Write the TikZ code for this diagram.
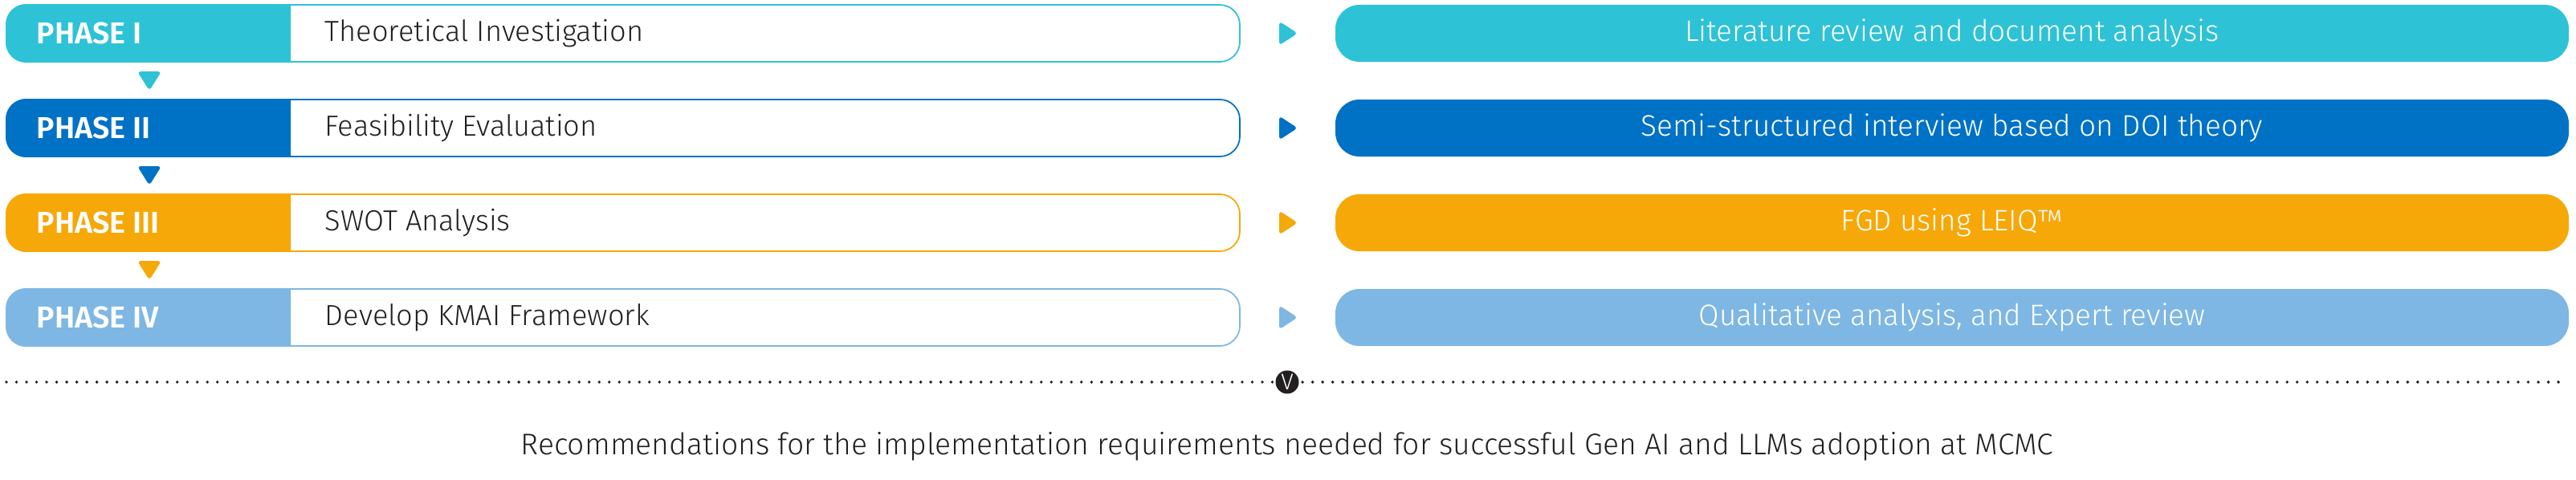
\documentclass[tikz,border=0pt]{standalone}
\usepackage{fontspec}
\setmainfont{Fira Sans Light}[BoldFont={Fira Sans SemiBold}]
\usepackage{tikz}

\definecolor{cone}{HTML}{2EC2D6}
\definecolor{ctwo}{HTML}{0072C6}
\definecolor{cthree}{HTML}{F6A808}
\definecolor{cfour}{HTML}{7EB7E3}
\definecolor{ink}{HTML}{231F20}

\tikzset{
  phasebox/.style={draw, line width=0.5pt, fill=white, rounded corners=0.25cm,
    minimum width=15.36cm, minimum height=0.71cm, inner sep=0pt},
  phaselabel/.style={anchor=west, text=white, inner sep=0pt,
    font=\fontsize{10.7}{12}\selectfont\bfseries},
  titletext/.style={anchor=west, text=ink, inner sep=0pt,
    font=\fontsize{10.3}{12}\selectfont},
  methodbox/.style={rounded corners=0.3cm, minimum width=15.36cm,
    minimum height=0.71cm, inner sep=0pt, text=white,
    font=\fontsize{10.5}{12}\selectfont},
}

\begin{document}
\begin{tikzpicture}

	\useasboundingbox (0,0) rectangle (32.08,5.97);

	% phases
	\node[phasebox, draw=cone] (p1) at (7.76,5.555) {};
	\node[phasebox, draw=ctwo] (p2) at (7.76,4.375) {};
	\node[phasebox, draw=cthree] (p3) at (7.76,3.195) {};
	\node[phasebox, draw=cfour] (p4) at (7.76,2.015) {};

	\fill[cone] ([xshift=3.55cm]p1.north west) [rounded corners=0.25cm] -- (p1.north west) -- (p1.south west) [sharp corners] -- ([xshift=3.55cm]p1.south west) -- cycle;
	\fill[ctwo] ([xshift=3.55cm]p2.north west) [rounded corners=0.25cm] -- (p2.north west) -- (p2.south west) [sharp corners] -- ([xshift=3.55cm]p2.south west) -- cycle;
	\fill[cthree] ([xshift=3.55cm]p3.north west) [rounded corners=0.25cm] -- (p3.north west) -- (p3.south west) [sharp corners] -- ([xshift=3.55cm]p3.south west) -- cycle;
	\fill[cfour] ([xshift=3.55cm]p4.north west) [rounded corners=0.25cm] -- (p4.north west) -- (p4.south west) [sharp corners] -- ([xshift=3.55cm]p4.south west) -- cycle;

	\node[phaselabel] (l1) at ([xshift=0.38cm]p1.west) {PHASE I};
	\node[phaselabel] (l2) at ([xshift=0.38cm]p2.west) {PHASE II};
	\node[phaselabel] (l3) at ([xshift=0.38cm]p3.west) {PHASE III};
	\node[phaselabel] (l4) at ([xshift=0.38cm]p4.west) {PHASE IV};

	\node[titletext] (t1) at ([xshift=3.97cm]p1.west) {Theoretical Investigation};
	\node[titletext] (t2) at ([xshift=3.97cm]p2.west) {Feasibility Evaluation};
	\node[titletext] (t3) at ([xshift=3.97cm]p3.west) {SWOT Analysis};
	\node[titletext] (t4) at ([xshift=3.97cm]p4.west) {Develop KMAI Framework};

	% methods
	\node[methodbox, fill=cone] (m1) at (24.31,5.555) {Literature review and document analysis};
	\node[methodbox, fill=ctwo] (m2) at (24.31,4.375) {Semi-structured interview based on DOI theory};
	\node[methodbox, fill=cthree] (m3) at (24.31,3.195) {FGD using LEIQ™};
	\node[methodbox, fill=cfour] (m4) at (24.31,2.015) {Qualitative analysis, and Expert review};

	% arrows right
	\fill[cone, rounded corners=1.2pt] (15.93,5.705) -- (16.16,5.555) -- (15.93,5.405) -- cycle;
	\fill[ctwo, rounded corners=1.2pt] (15.93,4.525) -- (16.16,4.375) -- (15.93,4.225) -- cycle;
	\fill[cthree, rounded corners=1.2pt] (15.93,3.345) -- (16.16,3.195) -- (15.93,3.045) -- cycle;
	\fill[cfour, rounded corners=1.2pt] (15.93,2.165) -- (16.16,2.015) -- (15.93,1.865) -- cycle;

	% arrows down
	\fill[cone, rounded corners=1.2pt] (1.71,5.08) -- (2.01,5.08) -- (1.86,4.84) -- cycle;
	\fill[ctwo, rounded corners=1.2pt] (1.71,3.90) -- (2.01,3.90) -- (1.86,3.66) -- cycle;
	\fill[cthree, rounded corners=1.2pt] (1.71,2.72) -- (2.01,2.72) -- (1.86,2.48) -- cycle;

	% result
	\coordinate (dl) at (0.08,1.21);
	\coordinate (dr) at (31.98,1.21);
	\draw[ink, line width=1.1pt, line cap=round, dash pattern=on 0pt off 3.56pt] (dl) -- (dr);
	\node[circle, fill=ink, minimum size=0.29cm, inner sep=0pt, text=white,
	      font=\fontsize{8}{9}\selectfont] (v) at (16.03,1.21) {V};
	\node[text=ink, inner sep=0pt, font=\fontsize{10.6}{12}\selectfont] (r) at (16.03,0.41)
	      {Recommendations for the implementation requirements needed for successful Gen AI and LLMs adoption at MCMC};

\end{tikzpicture}
\end{document}
